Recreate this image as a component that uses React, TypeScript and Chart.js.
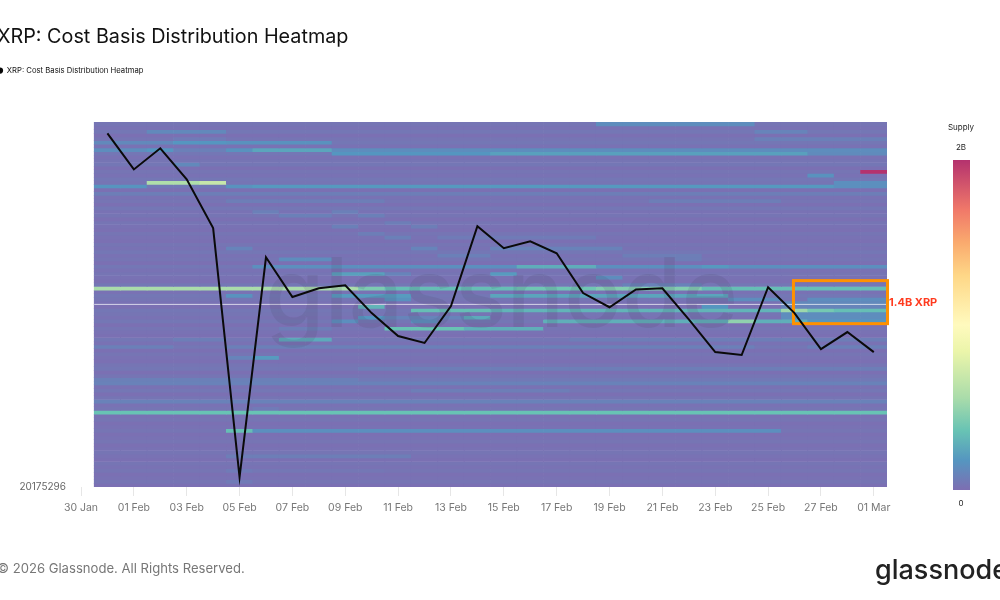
import React, { useEffect, useRef } from "react";
import { Chart, registerables } from "chart.js";

Chart.register(...registerables);

const CHART_TITLE = "XRP: Cost Basis Distribution Heatmap";
const BOTTOM_PRICE_LABEL = "20175296";
const COPYRIGHT = "© 2026 Glassnode. All Rights Reserved.";
const BRAND = "glassnode";

// x axis: day 0 is 30 Jan, ticks every second day
const tickDays = [0, 2, 4, 6, 8, 10, 12, 14, 16, 18, 20, 22, 24, 26, 28, 30];
const tickLabels = ["30 Jan", "01 Feb", "03 Feb", "05 Feb", "07 Feb", "09 Feb", "11 Feb", "13 Feb", "15 Feb", "17 Feb", "19 Feb", "21 Feb", "23 Feb", "25 Feb", "27 Feb", "01 Mar"];

// 31 Jan .. 01 Mar, in heatmap bin units (0 = bottom bin edge)
const priceBins = [97.0, 87.1, 92.9, 84.4, 71.0, 2.7, 63.0, 52.1, 54.5, 55.3, 47.7, 41.4, 39.5, 49.6, 71.5, 65.5, 67.4, 64.1, 53.2, 49.3, 54.2, 54.5, 46.0, 37.0, 36.2, 54.8, 47.7, 37.8, 42.5, 37.0];

// background supply per bin (billions), top bin first
const baseSupply = [
  0.03, 0.02, 0.04, 0.01, 0.03, 0.04, 0.02, 0.05, 0.04, 0.02,
  0.03, 0.04, 0.01, 0.03, 0.02, 0.04, 0.03, 0.05, 0.01, 0.04,
  0.02, 0.03, 0.01, 0.04, 0.02, 0.03, 0.01, 0.03, 0.02, 0.01,
  0.03, 0.02, 0.01, 0.03, 0.02, 0.04, 0.02, 0.03, 0.01, 0.04,
  0.02, 0.03, 0.02, 0.01, 0.04, 0.03, 0.02, 0.04, 0.03, 0.02,
  0.01, 0.04, 0.03, 0.02, 0.04, 0.01, 0.03, 0.02, 0.01, 0.04,
  0.02, 0.04, 0.01, 0.03, 0.02, 0.01, 0.03, 0.04, 0.01, 0.03,
  0.05, 0.05, 0.02, 0.04, 0.01, 0.03, 0.05, 0.02, 0.03, 0.04,
  0.02, 0.03, 0.01, 0.02, 0.03, 0.01, 0.02, 0.03, 0.01, 0.02,
  0.03, 0.02, 0.01, 0.03, 0.02, 0.03, 0.01, 0.02, 0.03, 0.01,
];

// [bin from top, first day column, end day column, supply in billions]
const stripes: [number, number, number, number][] = [
  [0, 19, 25, 0.14],
  [2, 2, 5, 0.12], [2, 25, 27, 0.1],
  [4, 3, 5, 0.06], [4, 25, 30, 0.08],
  [5, 0, 3, 0.12], [5, 3, 5, 0.18], [5, 5, 9, 0.16],
  [7, 0, 2, 0.14], [7, 2, 3, 0.18], [7, 3, 5, 0.08], [7, 5, 6, 0.16], [7, 6, 9, 0.24], [7, 9, 30, 0.14],
  [8, 9, 15, 0.18], [8, 15, 27, 0.22], [8, 27, 30, 0.13],
  [11, 3, 4, 0.12],
  [13, 29, 30, 2.0],
  [14, 27, 28, 0.16],
  [16, 2, 4, 0.58], [16, 4, 5, 0.68], [16, 28, 30, 0.15],
  [17, 0, 2, 0.17], [17, 5, 6, 0.16], [17, 6, 28, 0.19], [17, 28, 30, 0.15],
  [19, 0, 30, 0.07],
  [21, 5, 11, 0.07], [21, 21, 26, 0.07],
  [24, 6, 7, 0.08], [24, 9, 10, 0.08],
  [25, 7, 9, 0.08], [25, 10, 11, 0.08],
  [27, 11, 12, 0.07],
  [28, 9, 10, 0.08], [28, 12, 13, 0.07],
  [30, 10, 11, 0.07],
  [31, 11, 12, 0.08], [31, 13, 19, 0.06],
  [34, 5, 6, 0.1], [34, 12, 13, 0.1], [34, 15, 20, 0.09],
  [36, 13, 15, 0.08], [36, 20, 23, 0.07],
  [37, 7, 9, 0.14], [37, 22, 23, 0.07],
  [39, 6, 16, 0.15], [39, 16, 19, 0.27], [39, 19, 23, 0.15], [39, 23, 24, 0.19], [39, 24, 30, 0.15],
  [41, 9, 11, 0.22], [41, 11, 12, 0.1], [41, 15, 16, 0.2],
  [42, 19, 20, 0.14],
  [44, 20, 23, 0.09],
  [45, 0, 10, 0.56], [45, 10, 11, 0.42], [45, 11, 16, 0.34], [45, 16, 19, 0.38], [45, 19, 23, 0.44], [45, 23, 30, 0.34],
  [47, 5, 6, 0.16], [47, 9, 12, 0.2], [47, 15, 24, 0.24],
  [48, 11, 12, 0.16], [48, 24, 26, 0.14], [48, 27, 30, 0.14],
  [49, 26, 30, 0.12],
  [50, 10, 11, 0.3], [50, 23, 24, 0.18], [50, 26, 30, 0.1],
  [51, 12, 15, 0.34], [51, 15, 26, 0.3], [51, 26, 27, 0.52], [51, 27, 28, 0.4], [51, 28, 30, 0.34],
  [52, 26, 30, 0.14],
  [53, 10, 11, 0.18], [53, 11, 14, 0.1], [53, 14, 15, 0.26], [53, 26, 30, 0.14],
  [54, 9, 10, 0.15], [54, 12, 13, 0.15], [54, 17, 24, 0.28], [54, 24, 25, 0.48], [54, 25, 27, 0.28], [54, 27, 30, 0.18],
  [56, 7, 9, 0.07], [56, 11, 14, 0.36], [56, 14, 17, 0.28],
  [59, 3, 5, 0.07], [59, 7, 9, 0.26], [59, 18, 30, 0.07],
  [61, 0, 3, 0.08], [61, 5, 25, 0.08], [61, 27, 30, 0.08],
  [64, 5, 6, 0.1], [64, 6, 7, 0.2],
  [67, 10, 30, 0.07],
  [70, 0, 10, 0.08],
  [71, 0, 30, 0.09],
  [73, 12, 18, 0.07],
  [76, 0, 30, 0.09],
  [78, 6, 7, 0.06],
  [79, 0, 30, 0.36],
  [84, 5, 6, 0.34], [84, 6, 26, 0.15],
  [91, 5, 12, 0.07],
  [95, 0, 5, 0.03], [95, 5, 6, 0.06], [95, 6, 11, 0.04],
  [98, 5, 6, 0.06],
];

const whiteLineBin = 50.08;
const highlightDays = [26.96, 30.52]; // orange box, day range
const highlightBins = [44.8, 56.6]; // orange box, bin range
const HIGHLIGHT_LABEL = "1.4B XRP";

const MAX_SUPPLY = 2;
// colour ramp: share of max supply, r, g, b
const supplyStops: [number, number, number, number][] = [
  [0, 125, 110, 178],
  [0.09, 85, 150, 192],
  [0.18, 104, 195, 180],
  [0.28, 170, 220, 170],
  [0.42, 235, 245, 170],
  [0.5, 255, 250, 190],
  [0.65, 254, 215, 135],
  [0.75, 250, 170, 110],
  [0.85, 240, 120, 105],
  [1, 180, 50, 110],
];

const FONT = "Inter, 'Liberation Sans', sans-serif";

function supplyColor(supply: number) {
  const t = Math.min(1, supply / MAX_SUPPLY);
  for (let i = 1; i < supplyStops.length; i++) {
    const a = supplyStops[i - 1];
    const b = supplyStops[i];
    if (t <= b[0]) {
      const f = (t - a[0]) / (b[0] - a[0]);
      const c = [1, 2, 3].map((j) => Math.round(a[j] + (b[j] - a[j]) * f));
      return `rgb(${c[0]},${c[1]},${c[2]})`;
    }
  }
  return "rgb(180,50,110)";
}

function supplyCell(bin: number, col: number) {
  let v = baseSupply[bin];
  for (const s of stripes) {
    if (s[0] === bin && col >= s[1] && col < s[2]) v = s[3];
  }
  return v;
}

const priceDays = priceBins.map((_, i) => i + 1);

const heatmapDatasets = baseSupply.map((_, bin) => ({
  type: "bar" as const,
  order: 2,
  data: priceDays.map((day) => ({ x: day, y: [99 - bin, 100 - bin] })),
  backgroundColor: priceDays.map((day) => supplyColor(supplyCell(bin, day - 1))),
  borderWidth: 0,
  barPercentage: 1,
  categoryPercentage: 1,
  grouped: false,
}));

const overlayPlugin = {
  id: "overlay",
  // watermark and box sit above the heatmap, under the price line
  beforeDatasetDraw(chart: any, args: any) {
    if (args.meta.label !== CHART_TITLE) return;
    const { ctx, scales } = chart;
    ctx.save();
    ctx.font = `500 96px ${FONT}`;
    ctx.fillStyle = "rgba(70,70,100,0.14)";
    ctx.textAlign = "left";
    ctx.textBaseline = "alphabetic";
    ctx.fillText(BRAND, 268, 327);
    const x0 = scales.x.getPixelForValue(highlightDays[0]);
    const x1 = scales.x.getPixelForValue(highlightDays[1]);
    const y0 = scales.y.getPixelForValue(highlightBins[1]);
    const y1 = scales.y.getPixelForValue(highlightBins[0]);
    ctx.strokeStyle = "#ff9100";
    ctx.lineWidth = 3;
    ctx.strokeRect(x0, y0, x1 - x0, y1 - y0);
    ctx.restore();
  },
  afterDraw(chart: any) {
    const { ctx, scales } = chart;
    ctx.save();
    ctx.textBaseline = "alphabetic";

    ctx.font = `bold 11px ${FONT}`;
    ctx.fillStyle = "#ff3b1f";
    ctx.fillText(HIGHLIGHT_LABEL, scales.x.getPixelForValue(highlightDays[1]) + 1.5, 306);

    // colour bar
    const barX = 956;
    const barTop = 160;
    const barH = 330;
    const grad = ctx.createLinearGradient(0, barTop + barH, 0, barTop);
    supplyStops.forEach((s) => grad.addColorStop(s[0], `rgb(${s[1]},${s[2]},${s[3]})`));
    ctx.fillStyle = grad;
    ctx.fillRect(barX, barTop, 17, barH);

    ctx.font = `8px ${FONT}`;
    ctx.fillStyle = "#222";
    ctx.textAlign = "center";
    ctx.fillText("Supply", 964, 130);
    ctx.fillText("2B", 964, 150);
    ctx.fillText("0", 964, 506);

    ctx.textAlign = "left";
    ctx.font = `13.1px ${FONT}`;
    ctx.fillStyle = "#777";
    ctx.fillText(COPYRIGHT, 0, 573);

    ctx.font = `500 27px ${FONT}`;
    ctx.fillStyle = "#222";
    ctx.fillText(BRAND, 878, 579);
    ctx.restore();
  },
};

export default function App() {
  const ref = useRef<HTMLCanvasElement | null>(null);

  useEffect(() => {
    if (!ref.current) return;
    const chart = new Chart(ref.current, {
      type: "bar",
      data: {
        datasets: [
          ...heatmapDatasets,
          {
            type: "line" as const,
            order: 1,
            data: [{ x: 0.5, y: whiteLineBin }, { x: 30.5, y: whiteLineBin }],
            borderColor: "rgba(255,255,255,0.7)",
            borderWidth: 1,
            pointRadius: 0,
          },
          {
            type: "line" as const,
            order: 0,
            label: CHART_TITLE,
            data: priceBins.map((v, i) => ({ x: priceDays[i], y: v })),
            borderColor: "#0a0a0a",
            backgroundColor: "#000",
            borderWidth: 2,
            pointRadius: 0,
            pointStyle: "circle",
            tension: 0,
            clip: false,
          },
        ] as any,
      },
      options: {
        responsive: false,
        animation: false,
        events: [],
        layout: { padding: { right: 113 } },
        plugins: {
          tooltip: { enabled: false },
          title: {
            display: true,
            text: CHART_TITLE,
            align: "start",
            color: "#111",
            font: { family: FONT, size: 19.8, weight: "normal" },
            padding: { top: 25, bottom: 18 },
          },
          legend: {
            display: true,
            position: "top",
            align: "start",
            labels: {
              filter: (item: any) => item.text === CHART_TITLE,
              usePointStyle: true,
              boxWidth: 6,
              boxHeight: 3,
              padding: 0,
              color: "#111",
              font: { family: FONT, size: 7.7 },
            },
          },
        },
        scales: {
          x: {
            type: "linear",
            min: 0,
            max: 30.5,
            offset: false,
            afterFit: (s: any) => { s.height = 113; },
            afterBuildTicks: (s: any) => { s.ticks = tickDays.map((value) => ({ value })); },
            grid: { offset: false, drawOnChartArea: false, color: "#e6e6e6", tickLength: 9 },
            border: { display: false },
            ticks: {
              autoSkip: false,
              maxRotation: 0,
              padding: 6,
              color: "#777",
              font: { family: FONT, size: 10.5 },
              callback: (v: any) => tickLabels[tickDays.indexOf(v)],
            },
          },
          y: {
            type: "linear",
            min: 0,
            max: 110.4,
            afterFit: (s: any) => { s.width = 84; },
            afterBuildTicks: (s: any) => { s.ticks = [{ value: 0 }]; },
            grid: { display: false },
            border: { display: false },
            ticks: {
              padding: 7,
              color: "#666",
              font: { family: FONT, size: 10 },
              callback: () => BOTTOM_PRICE_LABEL,
            },
          },
        },
      },
      plugins: [overlayPlugin],
    } as any);
    return () => chart.destroy();
  }, []);

  return (
    <div style={{ position: "fixed", left: -3, top: 0, width: 1003, height: 600 }}>
      <canvas ref={ref} width={1003} height={600} style={{ display: "block" }} />
    </div>
  );
}
